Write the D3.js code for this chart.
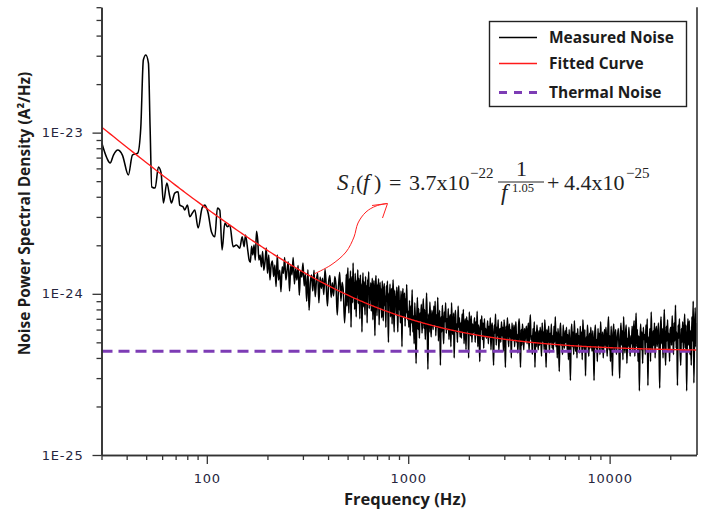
<!DOCTYPE html>
<html>
<head>
<meta charset="utf-8">
<script src="https://cdn.jsdelivr.net/npm/d3@7"></script>
<style>
  html, body { margin: 0; padding: 0; background: #fff; }
  svg { display: block; }
</style>
</head>
<body>
<svg id="chart" width="702" height="516"></svg>
<script>
// ---------------------------------------------------------------
// Current-noise spectrum: measured PSD, 1/f^a fit and thermal floor
// PSD readings are stored in units of 1e-26 A^2/Hz
// ---------------------------------------------------------------
const PSD_UNIT = 1e-26;

// resolved low-frequency part (Hz) with the 50 Hz mains line
const lowFreq = [30.1, 31.9, 33.1, 34.4, 36.1, 38.1, 40.8, 42.7, 45.4, 47.0,
  48.4, 49.8, 51.3, 52.3, 53.3, 55.4, 57.5, 59.3, 60.9, 63.3,
  65.5, 66.7, 69.3, 72.0, 73.4, 76.2, 77.7, 80.1, 82.3, 84.8,
  87.2, 90.5, 94.8, 97.7, 101.5, 105.4, 109.6, 112.9, 116.0, 119.1,
  122.9, 126.6, 130.1, 135.1, 140.3, 145.8, 149.8, 153.2, 155.6];
const lowPsd = [862, 696, 648, 726, 780, 726, 546, 726, 747, 1068,
  2820, 3030, 2703, 1068, 460, 453, 612, 562, 366, 487,
  400, 366, 422, 430, 355, 347, 331, 355, 301, 317,
  331, 256, 341, 355, 317, 243, 226, 341, 331, 187,
  275, 261, 267, 196, 201, 192, 226, 196, 232];

// 160 - 490 Hz, readings evenly spaced in log frequency
const midSpan = [160, 490];
const midPsd = [
  183, 162, 157, 197, 174, 201, 162, 244, 216, 162,
  174, 147, 183, 140, 159, 192, 134, 174, 122, 151,
  160, 128, 151, 111, 174, 122, 140, 103, 147, 134,
  168, 122, 140, 158, 104, 150, 131, 168, 115, 143,
  122, 150, 98, 139, 127, 155, 112, 132, 90, 141,
  79, 118, 131, 104, 140, 96, 121, 134, 88, 127,
  108, 125, 99, 142, 112, 84, 119, 130, 95, 117,
  97, 128, 112, 74, 109, 136, 90, 118, 102, 66];

// 490 Hz - 1 kHz, readings evenly spaced in log frequency
const upperSpan = [490, 1000];
const upperPsd = [
  98, 132, 84, 117, 145, 91, 76, 124, 103, 139, 62, 110, 128, 88, 155, 95, 118, 80, 134, 106, 72, 121, 99, 141,
  87, 125, 108, 70, 131, 94, 115, 58, 102, 135, 83, 119, 97, 74, 128, 89, 112, 66, 123, 100, 137, 81, 109, 92,
  117, 78, 104, 125, 69, 96, 121, 86, 55, 110, 130, 90, 73, 114, 99, 124, 64, 93, 118, 82, 107, 71, 120, 95,
  68, 103, 116, 84, 97, 62, 112, 90, 120, 77, 50, 101, 88, 115, 72, 94, 108, 65, 99, 122, 80, 58, 105, 86,
  96, 74, 110, 83, 58, 99, 112, 79, 91, 66, 104, 85, 47, 95, 108, 72, 88, 101, 63, 93, 76, 114, 82, 69];

// 1 kHz - 27 kHz, readings evenly spaced in log frequency
const highSpan = [1000, 27000];
const highPsd = [
  78, 62, 91, 55, 84, 66, 106, 58, 73, 49, 88, 64, 37, 70, 95, 60, 81, 53, 76, 68,
  86, 57, 72, 93, 61, 80, 52, 69, 101, 63, 34, 75, 58, 89, 66, 54, 79, 71, 60, 84,
  64, 90, 55, 74, 62, 95, 51, 68, 79, 36, 72, 58, 85, 63, 49, 77, 67, 88, 57, 70,
  60, 81, 52, 68, 74, 47, 88, 61, 56, 76, 40, 69, 79, 58, 65, 50, 84, 62, 71, 54,
  66, 53, 75, 58, 80, 49, 63, 70, 45, 72, 59, 68, 40, 77, 61, 55, 73, 50, 65, 57,
  62, 71, 50, 67, 56, 78, 47, 64, 58, 38, 69, 60, 73, 52, 66, 46, 70, 55, 61, 53,
  58, 68, 49, 63, 54, 71, 45, 60, 66, 52, 36, 64, 57, 75, 48, 62, 55, 69, 44, 59,
  61, 50, 67, 55, 62, 44, 69, 57, 35, 63, 52, 71, 58, 47, 65, 54, 60, 40, 66, 56,
  52, 64, 47, 59, 67, 50, 56, 43, 62, 70, 53, 35, 60, 48, 65, 55, 45, 61, 51, 58,
  63, 49, 57, 66, 44, 60, 74, 52, 55, 42, 61, 50, 67, 35, 58, 47, 64, 53, 45, 59,
  48, 62, 54, 41, 66, 51, 58, 45, 69, 53, 35, 60, 49, 56, 63, 43, 57, 50, 65, 46,
  55, 44, 63, 50, 72, 47, 58, 40, 61, 52, 33, 57, 66, 48, 54, 42, 64, 51, 46, 59,
  50, 62, 45, 56, 39, 60, 48, 29, 54, 65, 47, 58, 42, 68, 51, 44, 57, 40, 61, 49,
  55, 43, 63, 48, 58, 39, 69, 52, 45, 60, 31, 54, 47, 64, 50, 41, 57, 46, 62, 51,
  44, 59, 49, 29, 55, 64, 46, 52, 38, 61, 48, 57, 42, 67, 50, 45, 58, 40, 53, 60,
  47, 62, 52, 41, 58, 72, 45, 55, 38, 63, 49, 31, 57, 65, 44, 53, 60, 42, 50, 56,
  61, 45, 30, 54, 66, 48, 59, 39, 72, 51, 43, 57, 64, 37, 53, 47, 62, 50, 41, 55,
  49, 63, 44, 57, 68, 41, 53, 76, 47, 60, 38, 55, 25, 50, 65, 45, 58, 37, 62, 52,
  56, 42, 64, 50, 70, 27, 54, 46, 61, 38, 77, 52, 44, 59, 48, 66, 40, 57, 63, 47,
  53, 66, 45, 26, 58, 72, 49, 61, 40, 55, 80, 47, 36, 63, 51, 69, 44, 57, 38, 60,
  62, 48, 73, 55, 42, 66, 51, 85, 46, 58, 27, 64, 53, 70, 45, 36, 61, 50, 67, 44,
  57, 75, 46, 64, 25, 53, 70, 48, 68, 42, 59, 36, 72, 51, 90, 28, 55, 82, 47, 66];

// fitted model S_I(f) = A / f^alpha + B  (B = thermal noise floor)
const fitAmplitude = 3.7e-22;
const fitExponent = 1.05;
const thermalFloor = 4.4e-25;

// axes
const xDomain = [30, 27000];
const yDomain = [1e-25, 6e-23];
const xMajorTicks = [100, 1000, 10000];
const xMinorTicks = [30, 40, 50, 60, 70, 80, 90, 200, 300, 400, 500, 600, 700, 800, 900,
  2000, 3000, 4000, 5000, 6000, 7000, 8000, 9000, 20000];
const yMajorTicks = [1e-25, 1e-24, 1e-23];
const yMinorTicks = [2e-25, 3e-25, 4e-25, 5e-25, 6e-25, 7e-25, 8e-25, 9e-25,
  2e-24, 3e-24, 4e-24, 5e-24, 6e-24, 7e-24, 8e-24, 9e-24,
  2e-23, 3e-23, 4e-23, 5e-23, 6e-23];

const seriesNames = ["Measured Noise", "Fitted Curve", "Thermal Noise"];
const seriesColors = ["#000000", "#ff1a1a", "#7d3cb5"];

// ---------------------------------------------------------------
const plot = { left: 101.5, right: 696.5, top: 7.2, bottom: 455 };
const svg = d3.select("#chart");

const x = d3.scaleLog().domain(xDomain).range([plot.left, plot.right]);
const y = d3.scaleLog().domain(yDomain).range([plot.bottom, plot.top]);

// place span readings at evenly spaced log-frequency positions
function spanPoints(span, values, closed) {
  const l0 = Math.log10(span[0]), l1 = Math.log10(span[1]);
  const n = values.length, div = closed ? n - 1 : n;
  return values.map((v, i) => ({ f: Math.pow(10, l0 + (l1 - l0) * i / div), p: v * PSD_UNIT }));
}

const measured = lowFreq.map((f, i) => ({ f, p: lowPsd[i] * PSD_UNIT }))
  .concat(spanPoints(midSpan, midPsd, false))
  .concat(spanPoints(upperSpan, upperPsd, false))
  .concat(spanPoints(highSpan, highPsd, true));

const fitted = measured.map(d => ({ f: d.f, p: fitAmplitude / Math.pow(d.f, fitExponent) + thermalFloor }));

// clip region
svg.append("defs").append("clipPath").attr("id", "plotClip")
  .append("rect")
  .attr("x", plot.left).attr("y", plot.top)
  .attr("width", plot.right - plot.left).attr("height", plot.bottom - plot.top);

const line = d3.line().x(d => x(d.f)).y(d => y(d.p)).curve(d3.curveMonotoneX);

const layer = svg.append("g").attr("clip-path", "url(#plotClip)");

layer.append("path")
  .datum(measured)
  .attr("d", line)
  .attr("fill", "none")
  .attr("stroke", seriesColors[0])
  .attr("stroke-width", 1.55)
  .attr("stroke-linejoin", "round");

layer.append("line")
  .attr("x1", x(xDomain[0])).attr("x2", x(xDomain[1]))
  .attr("y1", y(thermalFloor)).attr("y2", y(thermalFloor))
  .attr("stroke", seriesColors[2])
  .attr("stroke-width", 3)
  .attr("stroke-dasharray", "11,6");

layer.append("path")
  .datum(fitted)
  .attr("d", d3.line().x(d => x(d.f)).y(d => y(d.p)))
  .attr("fill", "none")
  .attr("stroke", seriesColors[1])
  .attr("stroke-width", 1.35);

// ---------------- axes ----------------
const axisColor = "#333";
const tickFont = "'DejaVu Sans', sans-serif";

function styleAxis(g) {
  g.selectAll("path.domain").attr("stroke", axisColor).attr("stroke-width", 1.6);
  g.selectAll(".tick line").attr("stroke", axisColor).attr("stroke-width", 1.3);
  g.selectAll(".tick text")
    .attr("fill", "#26263e")
    .style("font-family", tickFont)
    .style("font-size", "13px")
    .style("letter-spacing", "0.8px");
}

const gxMinor = svg.append("g").attr("transform", `translate(0,${plot.bottom})`)
  .call(d3.axisBottom(x).tickValues(xMinorTicks).tickSize(5).tickSizeOuter(0).tickFormat(""));
const gxMajor = svg.append("g").attr("transform", `translate(0,${plot.bottom})`)
  .call(d3.axisBottom(x).tickValues(xMajorTicks).tickSize(9).tickSizeOuter(0)
    .tickPadding(10).tickFormat(d3.format("d")));
styleAxis(gxMinor); styleAxis(gxMajor);

const gyMinor = svg.append("g").attr("transform", `translate(${plot.left},0)`)
  .call(d3.axisLeft(y).tickValues(yMinorTicks).tickSize(5).tickSizeOuter(0).tickFormat(""));
const gyMajor = svg.append("g").attr("transform", `translate(${plot.left},0)`)
  .call(d3.axisLeft(y).tickValues(yMajorTicks).tickSize(9).tickSizeOuter(0)
    .tickPadding(9).tickFormat(d => "1E" + Math.round(Math.log10(d))));
styleAxis(gyMinor); styleAxis(gyMajor);

// right frame edge
svg.append("line")
  .attr("x1", plot.right + 0.5).attr("x2", plot.right + 0.5)
  .attr("y1", plot.top).attr("y2", plot.bottom)
  .attr("stroke", axisColor).attr("stroke-width", 1.6);

// axis titles
const titleFont = "'Open Sans', Lato, sans-serif";
svg.append("text")
  .attr("x", 405).attr("y", 505)
  .attr("text-anchor", "middle")
  .style("font-family", titleFont).style("font-weight", "bold").style("font-size", "16.5px")
  .attr("fill", "#1c1c1c")
  .text("Frequency (Hz)");

svg.append("text")
  .attr("transform", "translate(30,213.5) rotate(-90)")
  .attr("text-anchor", "middle")
  .style("font-family", titleFont).style("font-weight", "bold").style("font-size", "15.5px")
  .attr("fill", "#1c1c1c")
  .text("Noise Power Spectral Density (A²/Hz)");

// ---------------- legend ----------------
const legend = svg.append("g");
legend.append("rect")
  .attr("x", 489.5).attr("y", 21.5).attr("width", 197).attr("height", 85)
  .attr("fill", "#fff").attr("stroke", "#222").attr("stroke-width", 1.4);

const rowY = [37.5, 63.5, 92.5];
seriesNames.forEach((name, i) => {
  const sample = legend.append("line")
    .attr("x1", 499).attr("x2", 537)
    .attr("y1", rowY[i]).attr("y2", rowY[i])
    .attr("stroke", seriesColors[i])
    .attr("stroke-width", i === 2 ? 3 : 1.3);
  if (i === 2) sample.attr("stroke-dasharray", "8,7");
  legend.append("text")
    .attr("x", 549).attr("y", rowY[i] + 5)
    .style("font-family", titleFont).style("font-weight", "bold").style("font-size", "15.5px")
    .attr("fill", "#1c1c1c")
    .text(name);
});

// ---------------- model equation and pointer ----------------
const eq = svg.append("g")
  .style("font-family", "'Liberation Serif', 'DejaVu Serif', serif")
  .attr("fill", "#222");
const eqParts = [
  { t: "S", x: 337, y: 190, s: 23, it: true },
  { t: "I", x: 350.5, y: 194, s: 12, it: true },
  { t: "(", x: 356, y: 190, s: 22 },
  { t: "f", x: 363, y: 190, s: 23, it: true },
  { t: ")", x: 374, y: 190, s: 22 },
  { t: "=", x: 389, y: 190, s: 22 },
  { t: "3.7x10", x: 409, y: 190, s: 22 },
  { t: "\u221222", x: 470, y: 178, s: 15 },
  { t: "1", x: 516, y: 176, s: 22 },
  { t: "f", x: 501, y: 200, s: 23, it: true },
  { t: "1.05", x: 512, y: 192, s: 12.5 },
  { t: "+", x: 547, y: 190, s: 22 },
  { t: "4.4x10", x: 564, y: 190, s: 22 },
  { t: "\u221225", x: 626, y: 178, s: 15 }
];
eqParts.forEach(p => {
  eq.append("text")
    .attr("x", p.x).attr("y", p.y)
    .style("font-size", p.s + "px")
    .style("font-style", p.it ? "italic" : "normal")
    .text(p.t);
});
eq.append("line")
  .attr("x1", 498).attr("x2", 544).attr("y1", 182).attr("y2", 182)
  .attr("stroke", "#222").attr("stroke-width", 1);

// hand-drawn style pointer from the fit curve to the equation
const pointer = [[314, 274], [331, 265], [346, 252], [354, 237], [358, 223], [366, 212], [376, 206], [387, 203.5]];
svg.append("path")
  .attr("d", d3.line().curve(d3.curveCatmullRom)(pointer))
  .attr("fill", "none").attr("stroke", "#ff2020").attr("stroke-width", 1);
svg.append("path")
  .attr("d", "M372,205.5 L387.5,203.5 L382.5,218")
  .attr("fill", "none").attr("stroke", "#ff2020").attr("stroke-width", 1);
</script>
</body>
</html>
